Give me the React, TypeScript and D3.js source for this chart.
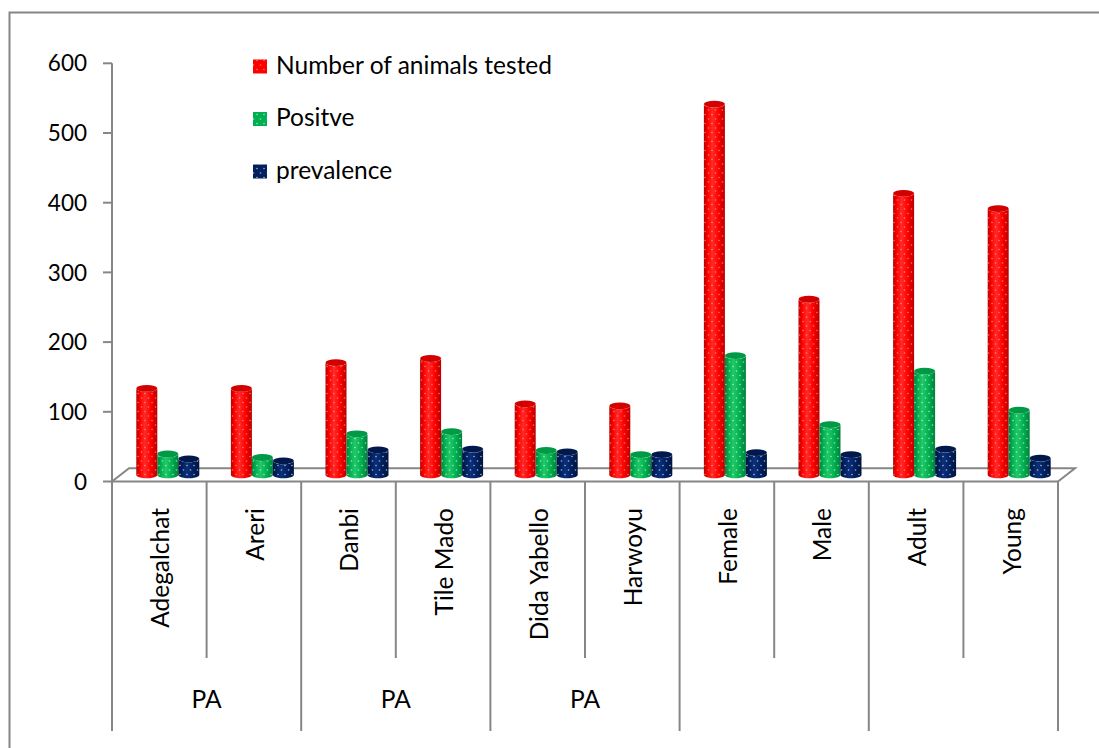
import React from "react";
import * as d3 from "d3";

// Categories, grouped two by two along the bottom axis
const categories = [
  "Adegalchat",
  "Areri",
  "Danbi",
  "Tile Mado",
  "Dida Yabello",
  "Harwoyu",
  "Female",
  "Male",
  "Adult",
  "Young",
];
const groupLabels = ["PA", "PA", "PA", "", ""];

const seriesNames = ["Number of animals tested", "Positve", "prevalence"];
const tested = [124, 124, 161, 167, 102, 99, 532, 252, 404, 382];
const positive = [30, 25, 59, 62, 35, 29, 171, 72, 149, 93];
const prevalence = [23, 20, 36, 37, 33, 29, 32, 29, 37, 24];
const yTicks = [0, 100, 200, 300, 400, 500, 600];

const seriesValues = [tested, positive, prevalence];
const seriesColors = [
  { base: "#ff0000", light: "#ff2a2a", dark: "#b80000", top: "#d40000", dot: "rgba(235,220,150,0.55)" },
  { base: "#00b050", light: "#22c868", dark: "#00803a", top: "#009a46", dot: "rgba(255,255,255,0.6)" },
  { base: "#002060", light: "#0b2f7a", dark: "#001440", top: "#00184c", dot: "rgba(255,255,255,0.65)" },
];

const W = 1099;
const H = 748;
const FONT = "Lato, 'Open Sans', sans-serif";
const AXIS = "#868686";
const LABEL_SIZE = 24.5;
const TICK_SIZE = 22.5;

export default function App() {
  const left = 112;
  const right = 1058;
  const floorFront = 481.5;
  const depthX = 17;
  const depthY = 13.2;

  const y = d3.scaleLinear().domain([0, 600]).range([floorFront, 63.3]);
  const x = d3.scaleBand<string>().domain(categories).range([left, right]);
  const bw = x.bandwidth();
  const barW = 21;
  const sx = d3
    .scaleBand<number>()
    .domain([0, 1, 2])
    .range([-1.5 * barW, 1.5 * barW]);

  const ry = 3.4;
  const cylinder = (cx: number, yTop: number, yBase: number, rx: number) => {
    const p = d3.path();
    p.moveTo(cx - rx, yTop);
    p.lineTo(cx - rx, yBase);
    // lower half of the base ellipse
    const steps = 24;
    for (let k = 1; k <= steps; k++) {
      const a = Math.PI - (Math.PI * k) / steps;
      p.lineTo(cx + rx * Math.cos(a), yBase + ry * Math.sin(a));
    }
    p.lineTo(cx + rx, yTop);
    for (let k = 1; k <= steps; k++) {
      const a = (Math.PI * k) / steps;
      p.lineTo(cx + rx * Math.cos(a), yTop + ry * Math.sin(a));
    }
    p.closePath();
    return p.toString();
  };

  const shiftY = depthY / 2;
  const shiftX = depthX / 2;

  const groups = d3.range(groupLabels.length);

  return (
    <svg
      width={W}
      height={H}
      style={{ position: "absolute", left: 0, top: 0, background: "#fff" }}
      fontFamily={FONT}
    >
      <defs>
        {seriesColors.map((c, i) => (
          <React.Fragment key={i}>
            <linearGradient id={`cyl${i}`} x1="0" x2="1" y1="0" y2="0">
              <stop offset="0" stopColor={c.dark} />
              <stop offset="0.18" stopColor={c.base} />
              <stop offset="0.4" stopColor={c.light} />
              <stop offset="0.7" stopColor={c.base} />
              <stop offset="1" stopColor={c.dark} />
            </linearGradient>
            <pattern id={`dots${i}`} width="7" height="9" patternUnits="userSpaceOnUse">
              <circle cx="1.5" cy="2" r="0.8" fill={c.dot} />
              <circle cx="5" cy="6.5" r="0.8" fill={c.dot} />
            </pattern>
          </React.Fragment>
        ))}
      </defs>

      {/* outer frame */}
      <path d={`M9.5,${H + 10} L9.5,12.5 L${W + 10},12.5`} fill="none" stroke={AXIS} strokeWidth={2} />

      {/* floor */}
      <path
        d={`M${left},${floorFront} L${left + depthX},${floorFront - depthY} L${right + depthX},${floorFront - depthY} L${right},${floorFront}`}
        fill="none"
        stroke={AXIS}
        strokeWidth={2}
      />

      {/* value axis */}
      <line x1={left} x2={left} y1={y(600)} y2={floorFront} stroke={AXIS} strokeWidth={2} />
      {yTicks.map((t) => (
        <g key={t}>
          <line x1={left - 9} x2={left} y1={y(t)} y2={y(t)} stroke={AXIS} strokeWidth={2} />
          <text x={87} y={y(t)} dy="0.36em" textAnchor="end" fontSize={TICK_SIZE} fill="#000">
            {t}
          </text>
        </g>
      ))}

      {/* bars */}
      {categories.map((cat, ci) => {
        const cxBase = (x(cat) as number) + bw / 2 + shiftX;
        return (
          <g key={cat}>
            {seriesValues.map((vals, si) => {
              const cx = cxBase + (sx(si) as number) + sx.bandwidth() / 2;
              const yBase = y(0) - shiftY;
              const yTop = y(vals[ci]) - shiftY;
              const rx = sx.bandwidth() / 2;
              const d = cylinder(cx, yTop, yBase, rx);
              return (
                <g key={si}>
                  <path d={d} fill={`url(#cyl${si})`} />
                  <path d={d} fill={`url(#dots${si})`} />
                  <ellipse cx={cx} cy={yTop} rx={rx} ry={ry} fill={seriesColors[si].top} />
                </g>
              );
            })}
          </g>
        );
      })}

      {/* category axis */}
      <line x1={left} x2={right} y1={floorFront} y2={floorFront} stroke={AXIS} strokeWidth={2} />
      {categories.map((cat, ci) => {
        const xl = x(cat) as number;
        const isGroupEdge = ci % 2 === 0;
        return (
          <line
            key={`t${ci}`}
            x1={xl}
            x2={xl}
            y1={floorFront}
            y2={isGroupEdge ? 731 : 658}
            stroke={AXIS}
            strokeWidth={2}
          />
        );
      })}
      <line x1={right} x2={right} y1={floorFront} y2={731} stroke={AXIS} strokeWidth={2} />
      {categories.map((cat) => {
        const cx = (x(cat) as number) + bw / 2;
        return (
          <text
            key={`l${cat}`}
            transform={`translate(${cx + 1},508) rotate(-90)`}
            textAnchor="end"
            dy="0.36em"
            fontSize={LABEL_SIZE}
            fill="#000"
          >
            {cat}
          </text>
        );
      })}
      {groups.map((g) => {
        const x0 = x(categories[g * 2]) as number;
        return (
          <text key={`g${g}`} x={x0 + bw} y={708} textAnchor="middle" fontSize={LABEL_SIZE} fill="#000">
            {groupLabels[g]}
          </text>
        );
      })}

      {/* legend */}
      {seriesNames.map((name, i) => {
        const ly = 59.5 + i * 52.5;
        return (
          <g key={name}>
            <rect x={253} y={ly} width={14} height={14} fill={seriesColors[i].base} />
            <rect x={253} y={ly} width={14} height={14} fill={`url(#dots${i})`} />
            <text x={276} y={ly + 14} fontSize={LABEL_SIZE} fill="#000">
              {name}
            </text>
          </g>
        );
      })}
    </svg>
  );
}
